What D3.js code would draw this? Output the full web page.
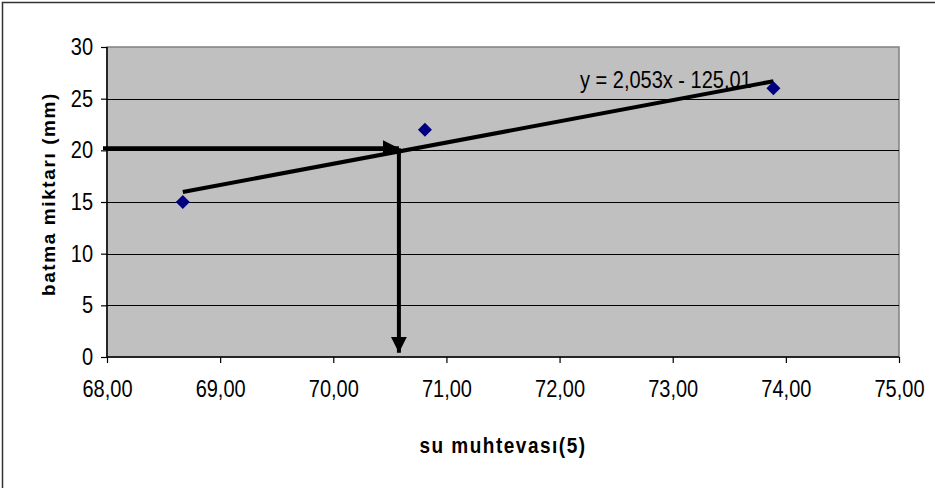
<!DOCTYPE html>
<html>
<head>
<meta charset="utf-8">
<script src="https://cdn.jsdelivr.net/npm/d3@7"></script>
<style>
  body { margin: 0; background: #fff; }
  text { font-family: "Liberation Sans", Arial, sans-serif; }
  .tall { transform-box: fill-box; transform-origin: center; transform: scaleY(1.15); }
</style>
</head>
<body>
<div id="chart"></div>
<script>
// measured points (su muhtevasi %, batma miktari mm)
var waterContent = [68.67, 70.81, 73.89];
var penetration = [15, 22, 26];

// trendline y = 2,053x - 125,01
var slope = 2.053;
var intercept = -125.01;
var trendLabel = "y = 2,053x - 125,01";

// reading arrows : from y axis to the line, then down to x axis
var readY = 20.2;
var readX = 70.58;
var readYEnd = 0.4;

var xTicks = [68, 69, 70, 71, 72, 73, 74, 75];
var yTicks = [0, 5, 10, 15, 20, 25, 30];

var xTitle = "su muhtevası(5)";
var yTitle = "batma miktarı (mm)";

var margin = { top: 47, right: 36, bottom: 131, left: 107 };
var W = 935, H = 488;
var width = W - margin.left - margin.right,
    height = H - margin.top - margin.bottom;

var svg = d3.select("#chart").append("svg")
  .attr("width", W)
  .attr("height", H);

// outer chart border (only top/left visible in the picture)
svg.append("rect")
  .attr("x", 2.5).attr("y", 2.5)
  .attr("width", 960).attr("height", 520)
  .attr("fill", "none")
  .attr("stroke", "#333")
  .attr("stroke-width", 1.5);

var defs = svg.append("defs");
defs.append("marker")
  .attr("id", "arrow")
  .attr("viewBox", "0 0 16 16")
  .attr("refX", 16).attr("refY", 8)
  .attr("markerWidth", 16).attr("markerHeight", 16)
  .attr("markerUnits", "userSpaceOnUse")
  .attr("orient", "auto")
  .append("path")
  .attr("d", "M0,0 L16,8 L0,16 Z")
  .attr("fill", "#000");

var g = svg.append("g")
  .attr("transform", "translate(" + margin.left + "," + margin.top + ")");

var x = d3.scaleLinear().domain([68, 75]).range([0, width]);
var y = d3.scaleLinear().domain([0, 30]).range([height, 0]);

// plot background
g.append("rect")
  .attr("width", width).attr("height", height)
  .attr("fill", "#c0c0c0")
  .attr("stroke", "#808080")
  .attr("stroke-width", 1.5);

// gridlines
g.selectAll(".grid")
  .data(yTicks.filter(function (d) { return d > 0 && d < 30; }))
  .enter().append("line")
  .attr("class", "grid")
  .attr("x1", 0).attr("x2", width)
  .attr("y1", function (d) { return Math.round(y(d)) + 0.5; })
  .attr("y2", function (d) { return Math.round(y(d)) + 0.5; })
  .attr("stroke", "#000")
  .attr("stroke-width", 1);

// axes
var xAxis = d3.axisBottom(x)
  .tickValues(xTicks)
  .tickSize(6)
  .tickPadding(19)
  .tickFormat(function (d) { return d3.format(".2f")(d).replace(".", ","); });

var yAxis = d3.axisLeft(y)
  .tickValues(yTicks)
  .tickSize(6)
  .tickPadding(8)
  .tickFormat(d3.format("d"));

var gx = g.append("g")
  .attr("transform", "translate(0," + height + ")")
  .call(xAxis);
var gy = g.append("g").call(yAxis);

[gx, gy].forEach(function (ax) {
  ax.select(".domain").attr("stroke", "#000").attr("stroke-width", 1.5);
  ax.selectAll(".tick line").attr("stroke", "#000").attr("stroke-width", 1.2);
  ax.selectAll(".tick text")
    .attr("class", "tall")
    .attr("fill", "#000")
    .style("font-size", "20px");
});
gy.select(".domain").attr("d", "M0," + height + "V0");
gx.select(".domain").attr("d", "M0,0H" + width);

// trendline over the data range
var xr = d3.extent(waterContent);
g.append("line")
  .attr("x1", x(xr[0])).attr("y1", y(slope * xr[0] + intercept))
  .attr("x2", x(xr[1])).attr("y2", y(slope * xr[1] + intercept))
  .attr("stroke", "#000")
  .attr("stroke-width", 4);

// arrows
g.append("line")
  .attr("x1", x(68) - 4).attr("y1", y(readY))
  .attr("x2", x(readX)).attr("y2", y(readY))
  .attr("stroke", "#000").attr("stroke-width", 4)
  .attr("marker-end", "url(#arrow)");

g.append("line")
  .attr("x1", x(readX)).attr("y1", y(readY))
  .attr("x2", x(readX)).attr("y2", y(readYEnd))
  .attr("stroke", "#000").attr("stroke-width", 4)
  .attr("marker-end", "url(#arrow)");

// data points
g.selectAll(".pt")
  .data(waterContent)
  .enter().append("path")
  .attr("class", "pt")
  .attr("d", d3.symbol().type(d3.symbolDiamond2).size(125))
  .attr("transform", function (d, i) {
    return "translate(" + x(d) + "," + y(penetration[i]) + ")";
  })
  .attr("fill", "#000080");

// equation label
g.append("text")
  .attr("class", "tall")
  .attr("x", 580 - margin.left)
  .attr("y", 87 - margin.top)
  .style("font-size", "20px")
  .text(trendLabel);

// axis titles
svg.append("text")
  .attr("class", "tall")
  .attr("x", margin.left + width / 2)
  .attr("y", 452)
  .attr("text-anchor", "middle")
  .style("font-size", "19px")
  .style("font-weight", "bold")
  .style("letter-spacing", "1.5px")
  .text(xTitle);

svg.append("text")
  .attr("transform", "translate(55," + (margin.top + height / 2 - 8) + ") rotate(-90)")
  .attr("text-anchor", "middle")
  .style("font-size", "19px")
  .style("font-weight", "bold")
  .style("letter-spacing", "1.6px")
  .text(yTitle);
</script>
</body>
</html>
